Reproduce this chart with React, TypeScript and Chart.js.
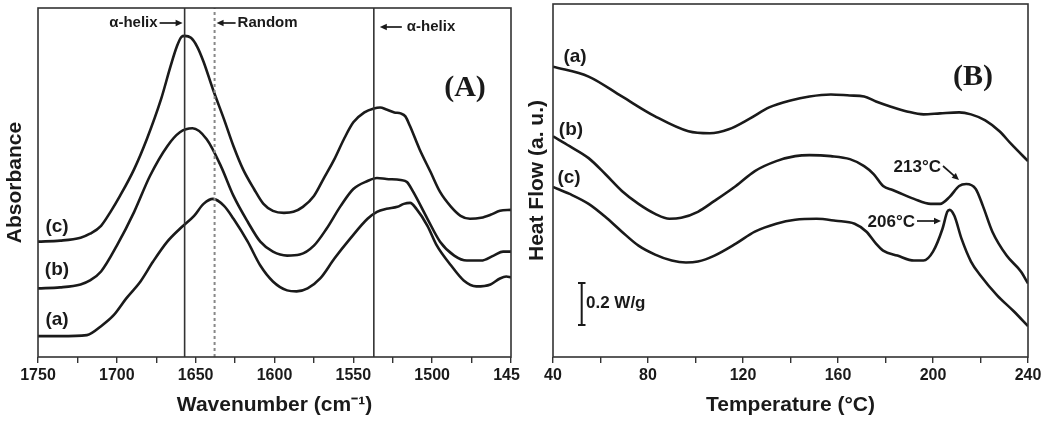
import React, { useEffect, useRef } from 'react';
import { Chart, registerables } from 'chart.js';

Chart.register(...registerables);

const FONT = '"Liberation Sans", Arial, Helvetica, sans-serif';
const SERIF = '"Liberation Serif", "Times New Roman", serif';
const INK = '#1a1a1a';

// ---------- Panel A: FTIR (wavenumber, cm-1 ; absorbance, a.u.) ----------
const wnC = [1750,1736,1723,1717,1710,1704,1698,1689,1681,1672,1666,1662,1659,1657,1653,1649,1645,1639,1632,1626,1620,1613,1607,1601,1594,1588,1582,1575,1569,1562,1556,1550,1543,1537,1533,1529,1524,1520,1517,1514,1508,1501,1495,1488,1482,1476,1469,1463,1457,1450];
const absC = [1.16,1.17,1.20,1.24,1.32,1.46,1.62,1.89,2.19,2.59,2.92,3.12,3.22,3.23,3.21,3.12,2.97,2.69,2.39,2.12,1.89,1.69,1.54,1.47,1.45,1.46,1.51,1.62,1.79,1.99,2.19,2.36,2.46,2.50,2.51,2.49,2.46,2.45,2.42,2.32,2.09,1.86,1.66,1.51,1.42,1.39,1.40,1.43,1.47,1.48];

const wnB = [1750,1736,1723,1717,1710,1700,1689,1679,1668,1660,1652,1643,1634,1626,1617,1609,1601,1592,1584,1575,1567,1558,1550,1541,1535,1529,1520,1516,1512,1503,1495,1486,1478,1469,1461,1455,1450];
const absB = [0.69,0.70,0.73,0.77,0.86,1.12,1.46,1.82,2.12,2.26,2.30,2.19,1.92,1.62,1.36,1.16,1.06,1.02,1.03,1.12,1.29,1.52,1.69,1.77,1.80,1.79,1.78,1.76,1.66,1.39,1.16,1.02,0.97,0.97,1.02,1.06,1.06];

const wnA = [1750,1736,1719,1710,1702,1694,1685,1677,1668,1660,1651,1645,1639,1632,1626,1617,1609,1601,1592,1586,1579,1571,1562,1552,1541,1535,1529,1522,1518,1514,1510,1503,1497,1488,1480,1472,1463,1457,1453,1450];
const absA = [0.21,0.21,0.22,0.31,0.42,0.59,0.76,0.96,1.16,1.29,1.42,1.54,1.59,1.52,1.39,1.16,0.92,0.76,0.67,0.66,0.69,0.79,0.99,1.19,1.39,1.46,1.49,1.51,1.54,1.55,1.49,1.32,1.12,0.92,0.77,0.71,0.73,0.79,0.81,0.80];

const helixLines = [1657, 1537];
const randomLine = [1638];
const wnMin = 1450;
const wnMax = 1750;
const absMax = 3.51;

// ---------- Panel B: DSC (temperature, °C ; heat flow, a.u.) ----------
const tA = [40,55,69,83,97,106,114,123,131,140,148,157,165,171,176,182,189,196,203,211,216,222,228,233,240];
const hfA = [2.92,2.82,2.62,2.42,2.27,2.25,2.29,2.40,2.51,2.58,2.62,2.64,2.63,2.62,2.57,2.52,2.47,2.44,2.45,2.46,2.44,2.38,2.27,2.14,1.97];

const tB = [40,47,55,62,69,76,83,89,94,101,108,117,125,134,142,148,157,165,171,175,179,183,185,192,199,203,207,211,214,218,221,225,231,237,240];
const hfB = [2.22,2.12,2.00,1.84,1.67,1.54,1.44,1.39,1.40,1.46,1.57,1.72,1.87,1.97,2.02,2.03,2.02,1.99,1.92,1.84,1.72,1.68,1.66,1.59,1.54,1.54,1.61,1.72,1.74,1.69,1.52,1.26,1.02,0.86,0.74];

const tC = [40,47,55,62,69,76,83,90,96,101,108,117,125,134,142,151,159,167,172,176,179,185,192,196,200,204,206,207,209,212,216,220,227,234,240];
const hfC = [1.71,1.64,1.54,1.41,1.26,1.12,1.03,0.97,0.95,0.96,1.02,1.14,1.26,1.34,1.38,1.39,1.37,1.34,1.26,1.14,1.07,1.02,0.97,0.97,1.06,1.29,1.46,1.48,1.42,1.19,0.96,0.82,0.62,0.46,0.31];

const tMin = 40;
const tMax = 240;
const hfMax = 3.55;
const peakLabels = ['213°C', '206°C'];
const scaleBarLabel = '0.2 W/g';

const pts = (xs: number[], ys: number[]) => xs.map((x, i) => ({ x, y: ys[i] }));

function arrow(ctx: CanvasRenderingContext2D, x1: number, y1: number, x2: number, y2: number) {
  const ang = Math.atan2(y2 - y1, x2 - x1);
  const hl = 7, hw = 3.2;
  ctx.beginPath();
  ctx.moveTo(x1, y1);
  ctx.lineTo(x2 - Math.cos(ang) * hl * 0.8, y2 - Math.sin(ang) * hl * 0.8);
  ctx.stroke();
  ctx.beginPath();
  ctx.moveTo(x2, y2);
  ctx.lineTo(x2 - Math.cos(ang) * hl - Math.sin(ang) * hw, y2 - Math.sin(ang) * hl + Math.cos(ang) * hw);
  ctx.lineTo(x2 - Math.cos(ang) * hl + Math.sin(ang) * hw, y2 - Math.sin(ang) * hl - Math.cos(ang) * hw);
  ctx.closePath();
  ctx.fill();
}

function curve(data: { x: number; y: number }[]) {
  return {
    data,
    borderColor: INK,
    borderWidth: 2.6,
    pointRadius: 0,
    fill: false,
    cubicInterpolationMode: 'monotone' as const,
  };
}

function xScale(min: number, max: number, step: number, labelEvery: number, reverse: boolean, title: string) {
  return {
    type: 'linear' as const,
    min,
    max,
    reverse,
    border: { display: false },
    grid: { display: true, drawOnChartArea: false, drawTicks: true, tickLength: 6, color: '#333', lineWidth: 1.4 },
    ticks: {
      stepSize: step,
      autoSkip: false,
      maxRotation: 0,
      padding: 3,
      color: INK,
      font: { family: FONT, size: 16, weight: 'bold' as const },
      callback: (v: any) => ((Number(v) - min) % labelEvery === 0 ? String(v) : ''),
    },
    title: {
      display: true,
      text: title,
      color: INK,
      font: { family: FONT, size: 21, weight: 'bold' as const },
      padding: { top: 4, bottom: 4 },
    },
  };
}

function yScale(max: number, title: string, padTop: number, padBottom: number) {
  return {
    type: 'linear' as const,
    min: 0,
    max,
    border: { display: false },
    grid: { display: false, drawTicks: false },
    ticks: { display: false },
    title: {
      display: true,
      text: title,
      color: INK,
      font: { family: FONT, size: 21, weight: 'bold' as const },
      padding: { top: padTop, bottom: padBottom },
    },
  };
}

function frame(ctx: CanvasRenderingContext2D, ca: any) {
  ctx.strokeStyle = '#333';
  ctx.lineWidth = 1.6;
  ctx.strokeRect(ca.left, ca.top, ca.right - ca.left, ca.bottom - ca.top);
}

const annA = {
  id: 'annA',
  afterDraw(chart: any) {
    const { ctx, chartArea: ca, scales } = chart;
    const x = scales.x;
    ctx.save();
    frame(ctx, ca);
    ctx.fillStyle = INK;
    ctx.strokeStyle = INK;
    ctx.lineWidth = 1.7;
    ctx.font = `bold 15px ${FONT}`;
    ctx.textBaseline = 'middle';
    const h1 = x.getPixelForValue(helixLines[0]);
    const h2 = x.getPixelForValue(helixLines[1]);
    const r = x.getPixelForValue(randomLine[0]);
    ctx.textAlign = 'right';
    ctx.fillText('α-helix', h1 - 27, 23);
    arrow(ctx, h1 - 25, 23, h1 - 2, 23);
    arrow(ctx, r + 21, 23, r + 2, 23);
    ctx.textAlign = 'left';
    ctx.fillText('Random', r + 23, 23);
    arrow(ctx, h2 + 28, 27, h2 + 6, 27);
    ctx.fillText('α-helix', h2 + 33, 27);
    ctx.textAlign = 'center';
    ctx.font = `bold 19px ${FONT}`;
    ctx.fillText('(c)', 57, 227);
    ctx.fillText('(b)', 57, 270);
    ctx.fillText('(a)', 57, 320);
    ctx.font = `bold 30px ${SERIF}`;
    ctx.fillText('(A)', 465, 88);
    ctx.restore();
  },
};

const annB = {
  id: 'annB',
  afterDraw(chart: any) {
    const { ctx, chartArea: ca } = chart;
    ctx.save();
    frame(ctx, ca);
    ctx.fillStyle = INK;
    ctx.strokeStyle = INK;
    ctx.textBaseline = 'middle';
    ctx.textAlign = 'center';
    ctx.font = `bold 19px ${FONT}`;
    ctx.fillText('(a)', 55, 57);
    ctx.fillText('(b)', 51, 130);
    ctx.fillText('(c)', 49, 178);
    ctx.font = `bold 30px ${SERIF}`;
    ctx.fillText('(B)', 453, 77);
    ctx.font = `bold 17px ${FONT}`;
    ctx.textAlign = 'right';
    ctx.fillText(peakLabels[0], 421, 167);
    ctx.fillText(peakLabels[1], 395, 222);
    ctx.lineWidth = 1.7;
    arrow(ctx, 423, 166, 439, 180);
    arrow(ctx, 397, 221, 421, 221);
    // scale bar
    ctx.lineWidth = 2;
    ctx.beginPath();
    ctx.moveTo(61.7, 283); ctx.lineTo(61.7, 325);
    ctx.moveTo(58, 283); ctx.lineTo(65.5, 283);
    ctx.moveTo(58, 325); ctx.lineTo(65.5, 325);
    ctx.stroke();
    ctx.textAlign = 'left';
    ctx.font = `bold 17px ${FONT}`;
    ctx.fillText(scaleBarLabel, 66, 303);
    ctx.restore();
  },
};

export default function App() {
  const refA = useRef<HTMLCanvasElement>(null);
  const refB = useRef<HTMLCanvasElement>(null);

  useEffect(() => {
    const vline = (x: number, dashed: boolean) => ({
      data: [{ x, y: 0 }, { x, y: absMax }],
      borderColor: dashed ? '#888' : '#333',
      borderWidth: dashed ? 2 : 1.6,
      borderDash: dashed ? [3, 3] : [],
      pointRadius: 0,
      fill: false,
    });

    const chartA = new Chart(refA.current as HTMLCanvasElement, {
      type: 'line',
      data: {
        datasets: [
          ...helixLines.map((v) => vline(v, false)),
          ...randomLine.map((v) => vline(v, true)),
          curve(pts(wnC, absC)),
          curve(pts(wnB, absB)),
          curve(pts(wnA, absA)),
        ] as any,
      },
      options: {
        animation: false,
        responsive: false,
        devicePixelRatio: 1,
        layout: { padding: { left: 0, right: 29, top: 8, bottom: 1.6 } },
        plugins: { legend: { display: false }, tooltip: { enabled: false } },
        scales: {
          x: xScale(wnMin, wnMax, 25, 50, true, 'Wavenumber (cm⁻¹)'),
          y: yScale(absMax, 'Absorbance', 2.4, 10.4),
        } as any,
      },
      plugins: [annA],
    });

    const chartB = new Chart(refB.current as HTMLCanvasElement, {
      type: 'line',
      data: {
        datasets: [curve(pts(tA, hfA)), curve(pts(tB, hfB)), curve(pts(tC, hfC))] as any,
      },
      options: {
        animation: false,
        responsive: false,
        devicePixelRatio: 1,
        layout: { padding: { left: 0, right: 22, top: 4, bottom: 1.6 } },
        plugins: { legend: { display: false }, tooltip: { enabled: false } },
        scales: {
          x: xScale(tMin, tMax, 20, 40, false, 'Temperature (°C)'),
          y: yScale(hfMax, 'Heat Flow (a. u.)', 4.4, 3.4),
        } as any,
      },
      plugins: [annB],
    });

    return () => {
      chartA.destroy();
      chartB.destroy();
    };
  }, []);

  return (
    <div style={{ position: 'fixed', left: 0, top: 0, width: 1050, height: 423, background: '#fff', overflow: 'hidden' }}>
      <div style={{ position: 'absolute', left: 0, top: 0, width: 520, height: 423, overflow: 'hidden' }}>
        <canvas ref={refA} width={540} height={423} style={{ display: 'block', width: 540, height: 423 }} />
      </div>
      <div style={{ position: 'absolute', left: 520, top: 0, width: 530, height: 423 }}>
        <canvas ref={refB} width={530} height={423} style={{ display: 'block', width: 530, height: 423 }} />
      </div>
    </div>
  );
}
